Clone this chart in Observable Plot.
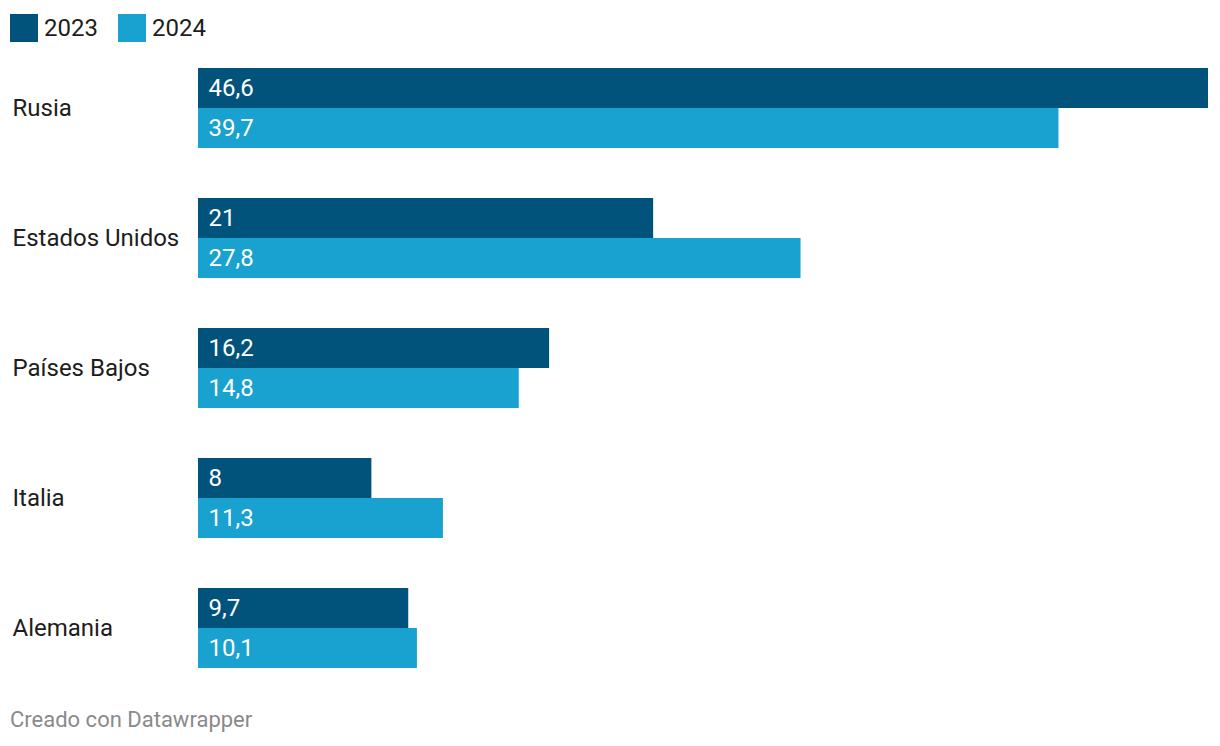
<!DOCTYPE html>
<html>
<head>
<meta charset="utf-8">
<script src="https://cdn.jsdelivr.net/npm/d3@7"></script>
<script src="https://cdn.jsdelivr.net/npm/@observablehq/plot@0.6"></script>
<style>
  body { margin: 0; background: #fff; font-family: Roboto, "Noto Sans", sans-serif; color: #1d1d1d; }
  #legend { height: 56px; position: relative; }
  .item { position: absolute; top: 14px; display: flex; align-items: center; font-size: 24px; line-height: 28px; }
  .sw { width: 28px; height: 28px; margin-right: 6px; }
  #footer { position: absolute; left: 10px; top: 705px; font-size: 22px; line-height: 30px; color: #8a8a8a; }
</style>
</head>
<body>
<div id="legend"></div>
<div id="chart"></div>
<div id="footer">Creado con Datawrapper</div>
<script>
const countries = ["Rusia", "Estados Unidos", "Países Bajos", "Italia", "Alemania"];
const years = ["2023", "2024"];
const values2023 = [46.6, 21, 16.2, 8, 9.7];
const values2024 = [39.7, 27.8, 14.8, 11.3, 10.1];
const colors = ["#01537c", "#19a1cf"];

const data = [];
countries.forEach((c, i) => {
  data.push({country: c, year: years[0], value: values2023[i]});
  data.push({country: c, year: years[1], value: values2024[i]});
});
const fmt = v => String(v).replace(".", ",");

const legend = document.getElementById("legend");
const lx = [10, 118];
years.forEach((y, i) => {
  const d = document.createElement("div");
  d.className = "item";
  d.style.left = lx[i] + "px";
  d.innerHTML = `<span class="sw" style="background:${colors[i]}"></span><span>${y}</span>`;
  legend.appendChild(d);
});

const chart = Plot.plot({
  width: 1220,
  height: 612,
  marginTop: 12,
  marginBottom: 0,
  marginLeft: 198,
  marginRight: 12,
  style: {fontFamily: "Roboto, sans-serif", fontSize: "24px", color: "#1d1d1d", background: "#fff"},
  x: {domain: [0, 46.6], axis: null},
  fy: {domain: countries, paddingInner: 50/130, paddingOuter: 0, axis: null},
  y: {domain: years, padding: 0, axis: null},
  color: {domain: years, range: colors},
  marks: [
    Plot.barX(data, {fy: "country", y: "year", x: "value", fill: "year"}),
    Plot.text(data, {fy: "country", y: "year", x: 0, dx: 10, text: d => fmt(d.value), textAnchor: "start", fill: "white", fontSize: 24}),
    Plot.text(countries, {fy: d => d, text: d => d, frameAnchor: "left", dx: -186, textAnchor: "start", fill: "#1d1d1d", fontSize: 24})
  ]
});
document.getElementById("chart").appendChild(chart);
</script>
</body>
</html>
